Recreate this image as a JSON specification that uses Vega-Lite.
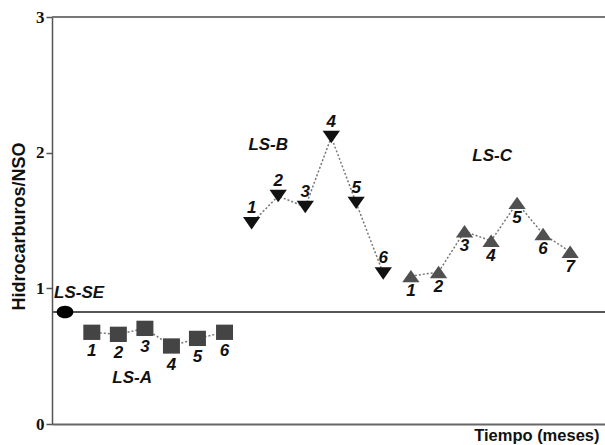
{
  "$schema": "https://vega.github.io/schema/vega-lite/v6.json",
  "width": 553,
  "height": 407,
  "autosize": {"type": "none"},
  "padding": {"left": 52, "top": 17, "right": 0, "bottom": 21},
  "background": "white",
  "config": {"view": {"stroke": null}},
  "datasets": {
    "points": [
      {"serie": "LS-SE", "n": "", "t": 2.35, "v": 0.825},
      {"serie": "LS-A", "n": "1", "t": 7.2, "v": 0.676},
      {"serie": "LS-A", "n": "2", "t": 12.0, "v": 0.661},
      {"serie": "LS-A", "n": "3", "t": 16.8, "v": 0.705},
      {"serie": "LS-A", "n": "4", "t": 21.6, "v": 0.575},
      {"serie": "LS-A", "n": "5", "t": 26.3, "v": 0.631},
      {"serie": "LS-A", "n": "6", "t": 31.2, "v": 0.676},
      {"serie": "LS-B", "n": "1", "t": 36.1, "v": 1.48},
      {"serie": "LS-B", "n": "2", "t": 40.9, "v": 1.68},
      {"serie": "LS-B", "n": "3", "t": 45.8, "v": 1.60},
      {"serie": "LS-B", "n": "4", "t": 50.5, "v": 2.115},
      {"serie": "LS-B", "n": "5", "t": 55.0, "v": 1.63},
      {"serie": "LS-B", "n": "6", "t": 59.9, "v": 1.11},
      {"serie": "LS-C", "n": "1", "t": 64.9, "v": 1.09},
      {"serie": "LS-C", "n": "2", "t": 69.9, "v": 1.12},
      {"serie": "LS-C", "n": "3", "t": 74.6, "v": 1.42},
      {"serie": "LS-C", "n": "4", "t": 79.4, "v": 1.35},
      {"serie": "LS-C", "n": "5", "t": 84.1, "v": 1.63},
      {"serie": "LS-C", "n": "6", "t": 88.8, "v": 1.40},
      {"serie": "LS-C", "n": "7", "t": 93.7, "v": 1.27}
    ],
    "groups": [
      {"name": "LS-SE", "t": 4.9, "v": 0.965},
      {"name": "LS-A", "t": 14.5, "v": 0.34},
      {"name": "LS-B", "t": 39.1, "v": 2.056},
      {"name": "LS-C", "t": 79.6, "v": 1.975}
    ],
    "lines": [
      {"v": 3},
      {"v": 0.825}
    ]
  },
  "encoding": {
    "x": {
      "field": "t",
      "type": "quantitative",
      "scale": {"domain": [0, 100], "nice": false, "zero": false},
      "axis": {
        "title": "Tiempo (meses)",
        "labels": false,
        "ticks": false,
        "grid": false,
        "domainColor": "#666",
        "domainWidth": 2,
        "titleFont": "Liberation Sans",
        "titleFontWeight": "bold",
        "titleFontSize": 16.5,
        "titleColor": "#111",
        "titleAlign": "right",
        "titleAnchor": "end",
        "titleX": 547,
        "titleY": 19,
        "titleBaseline": "bottom"
      }
    },
    "y": {
      "field": "v",
      "type": "quantitative",
      "scale": {"domain": [0, 3], "nice": false},
      "axis": {
        "title": "Hidrocarburos/NSO",
        "values": [0, 1, 2, 3],
        "format": "d",
        "grid": false,
        "domainColor": "#555",
        "domainWidth": 1.5,
        "tickColor": "#555",
        "tickSize": 6,
        "tickWidth": 1.5,
        "labelPadding": 2,
        "labelFont": "Liberation Serif",
        "labelFontWeight": "bold",
        "labelFontSize": 17,
        "labelColor": "#111",
        "titleFont": "Liberation Sans",
        "titleFontWeight": "bold",
        "titleFontSize": 18,
        "titleColor": "#111",
        "titleAngle": -90,
        "titleX": -33,
        "titleY": 209,
        "titleAlign": "center",
        "titleBaseline": "middle"
      }
    }
  },
  "layer": [
    {
      "data": {"name": "lines"},
      "transform": [{"filter": "datum.v === 3"}],
      "mark": {"type": "rule", "color": "#777", "strokeWidth": 2},
      "encoding": {"y": {"field": "v", "type": "quantitative"}, "x": null}
    },
    {
      "data": {"name": "lines"},
      "transform": [{"filter": "datum.v < 3"}],
      "mark": {"type": "rule", "color": "#555", "strokeWidth": 2},
      "encoding": {"y": {"field": "v", "type": "quantitative"}, "x": null}
    },
    {
      "data": {"name": "points"},
      "transform": [{"filter": "datum.serie !== 'LS-SE'"}],
      "mark": {"type": "line", "color": "#777", "strokeWidth": 1.5, "strokeDash": [2, 2]},
      "encoding": {"detail": {"field": "serie"}}
    },
    {
      "data": {"name": "points"},
      "transform": [{"filter": "datum.serie === 'LS-SE'"}],
      "mark": {"type": "point", "filled": true, "opacity": 1, "color": "#000", "size": 280, "shape": "M-1,0A1,0.75 0 1,0 1,0A1,0.75 0 1,0 -1,0Z"}
    },
    {
      "data": {"name": "points"},
      "transform": [{"filter": "datum.serie === 'LS-A'"}],
      "mark": {"type": "point", "filled": true, "opacity": 1, "color": "#444", "size": 289, "shape": "M-1,-0.9L1,-0.9L1,0.9L-1,0.9Z"}
    },
    {
      "data": {"name": "points"},
      "transform": [{"filter": "datum.serie === 'LS-B'"}],
      "mark": {"type": "point", "filled": true, "opacity": 1, "color": "#111", "size": 300, "shape": "M-1,-0.72L1,-0.72L0,0.72Z"}
    },
    {
      "data": {"name": "points"},
      "transform": [{"filter": "datum.serie === 'LS-C'"}],
      "mark": {"type": "point", "filled": true, "opacity": 1, "color": "#505050", "size": 300, "shape": "M-1,0.72L1,0.72L0,-0.72Z"}
    },
    {
      "data": {"name": "points"},
      "transform": [{"filter": "datum.serie === 'LS-A'"}],
      "mark": {"type": "text", "dy": 19, "font": "Liberation Sans", "fontWeight": "bold", "fontStyle": "italic", "fontSize": 17, "color": "#111"},
      "encoding": {"text": {"field": "n"}}
    },
    {
      "data": {"name": "points"},
      "transform": [{"filter": "datum.serie === 'LS-B'"}],
      "mark": {"type": "text", "dy": -15, "font": "Liberation Sans", "fontWeight": "bold", "fontStyle": "italic", "fontSize": 17, "color": "#111"},
      "encoding": {"text": {"field": "n"}}
    },
    {
      "data": {"name": "points"},
      "transform": [{"filter": "datum.serie === 'LS-C'"}],
      "mark": {"type": "text", "dy": 15, "font": "Liberation Sans", "fontWeight": "bold", "fontStyle": "italic", "fontSize": 17, "color": "#111"},
      "encoding": {"text": {"field": "n"}}
    },
    {
      "data": {"name": "groups"},
      "mark": {"type": "text", "font": "Liberation Sans", "fontWeight": "bold", "fontStyle": "italic", "fontSize": 17, "color": "#111"},
      "encoding": {"text": {"field": "name"}}
    }
  ]
}
